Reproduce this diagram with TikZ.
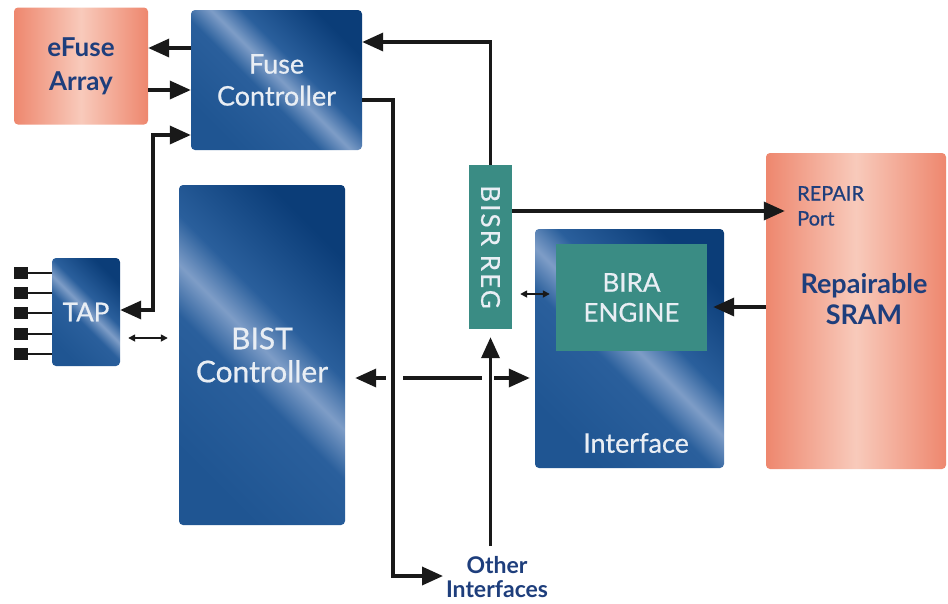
\documentclass[tikz,border=0pt]{standalone}
\usepackage{fontspec}
\setmainfont{Lato}
\newfontfamily\medfont[FakeBold=0.6]{Lato}
\newfontfamily\spacedfont[FakeBold=0.4,LetterSpace=8]{Lato}
\usetikzlibrary{arrows.meta,calc}
\definecolor{bMed}{HTML}{1F5592}
\definecolor{bMid}{HTML}{2A5F9C}
\definecolor{bLight}{HTML}{7E9DC7}
\definecolor{bDark}{HTML}{0B3D78}
\definecolor{sEdge}{HTML}{EE876E}
\definecolor{sLight}{HTML}{F8CABB}
\definecolor{teal}{HTML}{3A8C84}
\definecolor{navytext}{HTML}{1E3E7C}
\definecolor{boxtext}{HTML}{E9EEF4}
\pgfdeclarehorizontalshading{bluesh}{100bp}{color(0bp)=(bMed); color(25bp)=(bMed); color(44bp)=(bMid); color(51bp)=(bLight); color(58bp)=(bMid); color(75bp)=(bDark); color(100bp)=(bDark)}
\pgfdeclarehorizontalshading{salmonsh}{100bp}{color(0bp)=(sEdge); color(25bp)=(sEdge); color(50bp)=(sLight); color(75bp)=(sEdge); color(100bp)=(sEdge)}
\tikzset{
  bluebox/.style={rectangle, rounded corners=4pt, shading=bluesh, shading angle=45, text=boxtext, align=center, inner sep=0pt},
  salmonbox/.style={rectangle, rounded corners=4pt, shading=salmonsh, text=navytext, align=center, inner sep=0pt},
  tealbox/.style={rectangle, fill=teal, text=boxtext, align=center, inner sep=0pt},
  big/.style={line width=3.5pt, black!90, -{Triangle[length=21pt,width=18pt]}},
  bigboth/.style={line width=3.5pt, black!90, {Triangle[length=21pt,width=18pt]}-{Triangle[length=21pt,width=18pt]}},
  bigline/.style={line width=3.5pt, black!90},
  smallboth/.style={line width=1.6pt, black!90, {Triangle[length=7pt,width=7pt]}-{Triangle[length=7pt,width=7pt]}},
  pinsq/.style={rectangle, fill=black!90, minimum width=14pt, minimum height=12pt, inner sep=0pt}
}
\begin{document}
\begin{tikzpicture}[x=1pt,y=-1pt]
\useasboundingbox[fill=white] (0,0) rectangle (948,603);
% boxes
\node[salmonbox, minimum width=134pt, minimum height=117pt, font=\fontsize{26}{34}\selectfont\bfseries] (efuse) at (81,66) {eFuse\\Array};
\node[bluebox, minimum width=171pt, minimum height=140pt, font=\medfont\fontsize{27}{32}\selectfont] (fuse) at (276.5,80) {Fuse\\Controller};
\node[bluebox, minimum width=166pt, minimum height=340pt, font=\medfont\fontsize{30}{33}\selectfont] (bist) at (262,355) {BIST\\Controller};
\node[bluebox, minimum width=68pt, minimum height=108pt, font=\medfont\fontsize{26}{30}\selectfont] (tap) at (86,312) {TAP};
\node[tealbox, minimum width=43pt, minimum height=164pt] (bisr) at (490.5,247) {};
\node[text=boxtext, rotate=-90, font=\spacedfont\fontsize{26}{30}\selectfont] (bisrlbl) at (bisr.center) {BISR REG};
\node[bluebox, minimum width=189pt, minimum height=239pt] (iface) at (629.5,348.5) {};
\node[text=boxtext, font=\medfont\fontsize{27}{30}\selectfont] (ifacelbl) at (636,443) {Interface};
\node[tealbox, minimum width=151pt, minimum height=107pt, font=\medfont\fontsize{26}{30}\selectfont] (bira) at (631.5,297.5) {BIRA\\ENGINE};
\node[salmonbox, minimum width=180pt, minimum height=316pt] (sram) at (856,311) {};
\node[text=navytext, align=left, anchor=north west, inner sep=0pt, font=\medfont\fontsize{20}{25}\selectfont] (port) at (797,186) {REPAIR\\Port};
\node[text=navytext, align=center, font=\fontsize{27}{31}\selectfont\bfseries] (sramlbl) at (864,299) {Repairable\\SRAM};
\node[text=navytext, align=center, inner sep=1pt, font=\fontsize{23}{24}\selectfont\bfseries] (other) at (497,577) {Other\\Interfaces};
% TAP pins
\foreach \i/\y in {1/273,2/293,3/313,4/334,5/354}{
  \node[pinsq] (pin\i) at (21,\y) {};
  \draw[line width=2pt, black!90] (pin\i.east) -- (tap.west |- pin\i);
}
% connectors
\draw[big] (fuse.west |- 0,48) -- (efuse.east |- 0,48);
\draw[big] (efuse.east |- 0,90) -- (fuse.west |- 0,90);
\draw[bigboth] (fuse.west |- 0,135) -| (153,310) -- (tap.east |- 0,310);
\draw[smallboth] ($(tap.east |- 0,338)+(8,0)$) -- ($(bist.west |- 0,338)+(-11,0)$);
\draw[big] (bisr.north) |- (fuse.east |- 0,42);
\coordinate (oi) at (443,576);
\draw[big] (fuse.east |- 0,100) -| (393,576) -- (oi);
\draw[big] (bisr.east |- 0,211) -- ($(sram.west |- 0,211)+(19,0)$);
\draw[smallboth] ($(bisr.east |- 0,294)+(8,0)$) -- ($(bira.west |- 0,294)+(-6,0)$);
\draw[big] (sram.west |- 0,307) -- ($(bira.east |- 0,307)+(6,0)$);
\draw[bigline, {Triangle[length=21pt,width=18pt]}-] ($(bist.east |- 0,378)+(10,0)$) -- (386,378);
\draw[bigline] (403,378) -- (482,378);
\draw[big] (494,378) -- ($(iface.west |- 0,378)+(-5,0)$);
\draw[big] (bisr.south |- 0,546) -- ($(bisr.south)+(0,8)$);
\end{tikzpicture}
\end{document}
